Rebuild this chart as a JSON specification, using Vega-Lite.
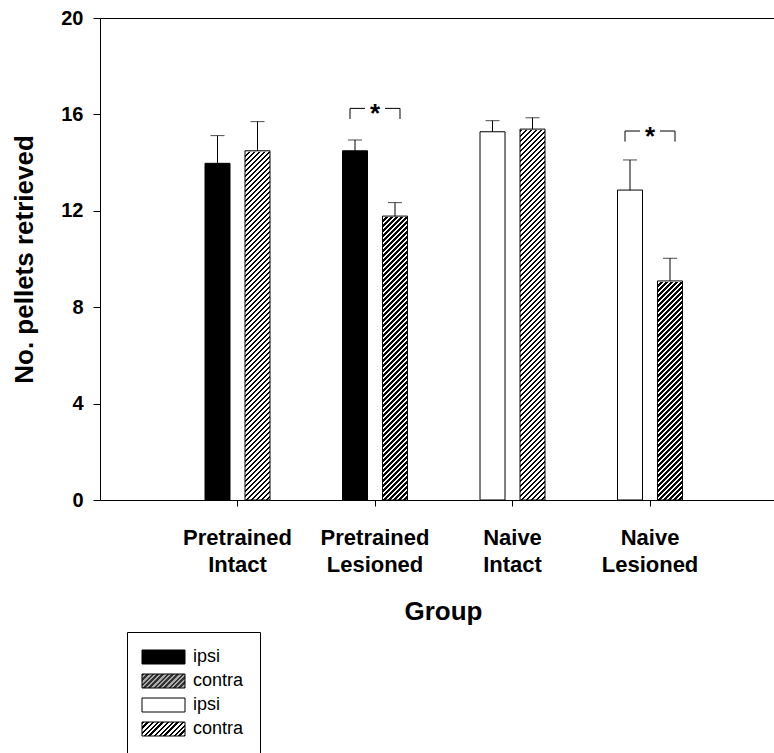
{
"$schema":"https://vega.github.io/schema/vega-lite/v6.json",
"autosize":{"type":"none"},
"padding":{"left":100,"top":18,"right":0,"bottom":253},
"width":674,"height":482,
"config":{"view":{"stroke":null},"axis":{"labelFont":"Liberation Sans","titleFont":"Liberation Sans","labelColor":"#000","titleColor":"#000","domainColor":"#000","tickColor":"#000","grid":false},"legend":{"labelFont":"Liberation Sans"},"text":{"font":"Liberation Sans"}},
"datasets":{
"bars":[
{"group":"Pretrained Intact","side":"ipsi","series":"P-ipsi","mean":13.97,"hi":15.12},
{"group":"Pretrained Intact","side":"contra","series":"P-contra","mean":14.49,"hi":15.7},
{"group":"Pretrained Lesioned","side":"ipsi","series":"P-ipsi","mean":14.49,"hi":14.94},
{"group":"Pretrained Lesioned","side":"contra","series":"P-contra","mean":11.78,"hi":12.34},
{"group":"Naive Intact","side":"ipsi","series":"N-ipsi","mean":15.28,"hi":15.74},
{"group":"Naive Intact","side":"contra","series":"N-contra","mean":15.39,"hi":15.86},
{"group":"Naive Lesioned","side":"ipsi","series":"N-ipsi","mean":12.86,"hi":14.11},
{"group":"Naive Lesioned","side":"contra","series":"N-contra","mean":9.09,"hi":10.03}
],
"brackets":[
{"group":"Pretrained Lesioned","top":16.25,"bot":15.81},
{"group":"Naive Lesioned","top":15.31,"bot":14.87}
]},
"data":{"name":"bars"},
"resolve":{"axis":{"x":"independent","y":"independent"}},
"layer":[
{"transform":[{"filter":"datum.side==='contra'"}],
"mark":{"type":"bar","stroke":null,"fill":{"gradient":"linear","x1":0,"y1":0,"x2":0.070796,"y2":1.061947,"stops":[
{"offset":0,"color":"#000"},{"offset":0.00625,"color":"#000"},{"offset":0.00625,"color":"#fff"},{"offset":0.0125,"color":"#fff"},
{"offset":0.0125,"color":"#000"},{"offset":0.01875,"color":"#000"},{"offset":0.01875,"color":"#fff"},{"offset":0.025,"color":"#fff"},
{"offset":0.025,"color":"#000"},{"offset":0.03125,"color":"#000"},{"offset":0.03125,"color":"#fff"},{"offset":0.0375,"color":"#fff"},
{"offset":0.0375,"color":"#000"},{"offset":0.04375,"color":"#000"},{"offset":0.04375,"color":"#fff"},{"offset":0.05,"color":"#fff"},
{"offset":0.05,"color":"#000"},{"offset":0.05625,"color":"#000"},{"offset":0.05625,"color":"#fff"},{"offset":0.0625,"color":"#fff"},
{"offset":0.0625,"color":"#000"},{"offset":0.06875,"color":"#000"},{"offset":0.06875,"color":"#fff"},{"offset":0.075,"color":"#fff"},
{"offset":0.075,"color":"#000"},{"offset":0.08125,"color":"#000"},{"offset":0.08125,"color":"#fff"},{"offset":0.0875,"color":"#fff"},
{"offset":0.0875,"color":"#000"},{"offset":0.09375,"color":"#000"},{"offset":0.09375,"color":"#fff"},{"offset":0.1,"color":"#fff"},
{"offset":0.1,"color":"#000"},{"offset":0.10625,"color":"#000"},{"offset":0.10625,"color":"#fff"},{"offset":0.1125,"color":"#fff"},
{"offset":0.1125,"color":"#000"},{"offset":0.11875,"color":"#000"},{"offset":0.11875,"color":"#fff"},{"offset":0.125,"color":"#fff"},
{"offset":0.125,"color":"#000"},{"offset":0.13125,"color":"#000"},{"offset":0.13125,"color":"#fff"},{"offset":0.1375,"color":"#fff"},
{"offset":0.1375,"color":"#000"},{"offset":0.14375,"color":"#000"},{"offset":0.14375,"color":"#fff"},{"offset":0.15,"color":"#fff"},
{"offset":0.15,"color":"#000"},{"offset":0.15625,"color":"#000"},{"offset":0.15625,"color":"#fff"},{"offset":0.1625,"color":"#fff"},
{"offset":0.1625,"color":"#000"},{"offset":0.16875,"color":"#000"},{"offset":0.16875,"color":"#fff"},{"offset":0.175,"color":"#fff"},
{"offset":0.175,"color":"#000"},{"offset":0.18125,"color":"#000"},{"offset":0.18125,"color":"#fff"},{"offset":0.1875,"color":"#fff"},
{"offset":0.1875,"color":"#000"},{"offset":0.19375,"color":"#000"},{"offset":0.19375,"color":"#fff"},{"offset":0.2,"color":"#fff"},
{"offset":0.2,"color":"#000"},{"offset":0.20625,"color":"#000"},{"offset":0.20625,"color":"#fff"},{"offset":0.2125,"color":"#fff"},
{"offset":0.2125,"color":"#000"},{"offset":0.21875,"color":"#000"},{"offset":0.21875,"color":"#fff"},{"offset":0.225,"color":"#fff"},
{"offset":0.225,"color":"#000"},{"offset":0.23125,"color":"#000"},{"offset":0.23125,"color":"#fff"},{"offset":0.2375,"color":"#fff"},
{"offset":0.2375,"color":"#000"},{"offset":0.24375,"color":"#000"},{"offset":0.24375,"color":"#fff"},{"offset":0.25,"color":"#fff"},
{"offset":0.25,"color":"#000"},{"offset":0.25625,"color":"#000"},{"offset":0.25625,"color":"#fff"},{"offset":0.2625,"color":"#fff"},
{"offset":0.2625,"color":"#000"},{"offset":0.26875,"color":"#000"},{"offset":0.26875,"color":"#fff"},{"offset":0.275,"color":"#fff"},
{"offset":0.275,"color":"#000"},{"offset":0.28125,"color":"#000"},{"offset":0.28125,"color":"#fff"},{"offset":0.2875,"color":"#fff"},
{"offset":0.2875,"color":"#000"},{"offset":0.29375,"color":"#000"},{"offset":0.29375,"color":"#fff"},{"offset":0.3,"color":"#fff"},
{"offset":0.3,"color":"#000"},{"offset":0.30625,"color":"#000"},{"offset":0.30625,"color":"#fff"},{"offset":0.3125,"color":"#fff"},
{"offset":0.3125,"color":"#000"},{"offset":0.31875,"color":"#000"},{"offset":0.31875,"color":"#fff"},{"offset":0.325,"color":"#fff"},
{"offset":0.325,"color":"#000"},{"offset":0.33125,"color":"#000"},{"offset":0.33125,"color":"#fff"},{"offset":0.3375,"color":"#fff"},
{"offset":0.3375,"color":"#000"},{"offset":0.34375,"color":"#000"},{"offset":0.34375,"color":"#fff"},{"offset":0.35,"color":"#fff"},
{"offset":0.35,"color":"#000"},{"offset":0.35625,"color":"#000"},{"offset":0.35625,"color":"#fff"},{"offset":0.3625,"color":"#fff"},
{"offset":0.3625,"color":"#000"},{"offset":0.36875,"color":"#000"},{"offset":0.36875,"color":"#fff"},{"offset":0.375,"color":"#fff"},
{"offset":0.375,"color":"#000"},{"offset":0.38125,"color":"#000"},{"offset":0.38125,"color":"#fff"},{"offset":0.3875,"color":"#fff"},
{"offset":0.3875,"color":"#000"},{"offset":0.39375,"color":"#000"},{"offset":0.39375,"color":"#fff"},{"offset":0.4,"color":"#fff"},
{"offset":0.4,"color":"#000"},{"offset":0.40625,"color":"#000"},{"offset":0.40625,"color":"#fff"},{"offset":0.4125,"color":"#fff"},
{"offset":0.4125,"color":"#000"},{"offset":0.41875,"color":"#000"},{"offset":0.41875,"color":"#fff"},{"offset":0.425,"color":"#fff"},
{"offset":0.425,"color":"#000"},{"offset":0.43125,"color":"#000"},{"offset":0.43125,"color":"#fff"},{"offset":0.4375,"color":"#fff"},
{"offset":0.4375,"color":"#000"},{"offset":0.44375,"color":"#000"},{"offset":0.44375,"color":"#fff"},{"offset":0.45,"color":"#fff"},
{"offset":0.45,"color":"#000"},{"offset":0.45625,"color":"#000"},{"offset":0.45625,"color":"#fff"},{"offset":0.4625,"color":"#fff"},
{"offset":0.4625,"color":"#000"},{"offset":0.46875,"color":"#000"},{"offset":0.46875,"color":"#fff"},{"offset":0.475,"color":"#fff"},
{"offset":0.475,"color":"#000"},{"offset":0.48125,"color":"#000"},{"offset":0.48125,"color":"#fff"},{"offset":0.4875,"color":"#fff"},
{"offset":0.4875,"color":"#000"},{"offset":0.49375,"color":"#000"},{"offset":0.49375,"color":"#fff"},{"offset":0.5,"color":"#fff"},
{"offset":0.5,"color":"#000"},{"offset":0.50625,"color":"#000"},{"offset":0.50625,"color":"#fff"},{"offset":0.5125,"color":"#fff"},
{"offset":0.5125,"color":"#000"},{"offset":0.51875,"color":"#000"},{"offset":0.51875,"color":"#fff"},{"offset":0.525,"color":"#fff"},
{"offset":0.525,"color":"#000"},{"offset":0.53125,"color":"#000"},{"offset":0.53125,"color":"#fff"},{"offset":0.5375,"color":"#fff"},
{"offset":0.5375,"color":"#000"},{"offset":0.54375,"color":"#000"},{"offset":0.54375,"color":"#fff"},{"offset":0.55,"color":"#fff"},
{"offset":0.55,"color":"#000"},{"offset":0.55625,"color":"#000"},{"offset":0.55625,"color":"#fff"},{"offset":0.5625,"color":"#fff"},
{"offset":0.5625,"color":"#000"},{"offset":0.56875,"color":"#000"},{"offset":0.56875,"color":"#fff"},{"offset":0.575,"color":"#fff"},
{"offset":0.575,"color":"#000"},{"offset":0.58125,"color":"#000"},{"offset":0.58125,"color":"#fff"},{"offset":0.5875,"color":"#fff"},
{"offset":0.5875,"color":"#000"},{"offset":0.59375,"color":"#000"},{"offset":0.59375,"color":"#fff"},{"offset":0.6,"color":"#fff"},
{"offset":0.6,"color":"#000"},{"offset":0.60625,"color":"#000"},{"offset":0.60625,"color":"#fff"},{"offset":0.6125,"color":"#fff"},
{"offset":0.6125,"color":"#000"},{"offset":0.61875,"color":"#000"},{"offset":0.61875,"color":"#fff"},{"offset":0.625,"color":"#fff"},
{"offset":0.625,"color":"#000"},{"offset":0.63125,"color":"#000"},{"offset":0.63125,"color":"#fff"},{"offset":0.6375,"color":"#fff"},
{"offset":0.6375,"color":"#000"},{"offset":0.64375,"color":"#000"},{"offset":0.64375,"color":"#fff"},{"offset":0.65,"color":"#fff"},
{"offset":0.65,"color":"#000"},{"offset":0.65625,"color":"#000"},{"offset":0.65625,"color":"#fff"},{"offset":0.6625,"color":"#fff"},
{"offset":0.6625,"color":"#000"},{"offset":0.66875,"color":"#000"},{"offset":0.66875,"color":"#fff"},{"offset":0.675,"color":"#fff"},
{"offset":0.675,"color":"#000"},{"offset":0.68125,"color":"#000"},{"offset":0.68125,"color":"#fff"},{"offset":0.6875,"color":"#fff"},
{"offset":0.6875,"color":"#000"},{"offset":0.69375,"color":"#000"},{"offset":0.69375,"color":"#fff"},{"offset":0.7,"color":"#fff"},
{"offset":0.7,"color":"#000"},{"offset":0.70625,"color":"#000"},{"offset":0.70625,"color":"#fff"},{"offset":0.7125,"color":"#fff"},
{"offset":0.7125,"color":"#000"},{"offset":0.71875,"color":"#000"},{"offset":0.71875,"color":"#fff"},{"offset":0.725,"color":"#fff"},
{"offset":0.725,"color":"#000"},{"offset":0.73125,"color":"#000"},{"offset":0.73125,"color":"#fff"},{"offset":0.7375,"color":"#fff"},
{"offset":0.7375,"color":"#000"},{"offset":0.74375,"color":"#000"},{"offset":0.74375,"color":"#fff"},{"offset":0.75,"color":"#fff"},
{"offset":0.75,"color":"#000"},{"offset":0.75625,"color":"#000"},{"offset":0.75625,"color":"#fff"},{"offset":0.7625,"color":"#fff"},
{"offset":0.7625,"color":"#000"},{"offset":0.76875,"color":"#000"},{"offset":0.76875,"color":"#fff"},{"offset":0.775,"color":"#fff"},
{"offset":0.775,"color":"#000"},{"offset":0.78125,"color":"#000"},{"offset":0.78125,"color":"#fff"},{"offset":0.7875,"color":"#fff"},
{"offset":0.7875,"color":"#000"},{"offset":0.79375,"color":"#000"},{"offset":0.79375,"color":"#fff"},{"offset":0.8,"color":"#fff"},
{"offset":0.8,"color":"#000"},{"offset":0.80625,"color":"#000"},{"offset":0.80625,"color":"#fff"},{"offset":0.8125,"color":"#fff"},
{"offset":0.8125,"color":"#000"},{"offset":0.81875,"color":"#000"},{"offset":0.81875,"color":"#fff"},{"offset":0.825,"color":"#fff"},
{"offset":0.825,"color":"#000"},{"offset":0.83125,"color":"#000"},{"offset":0.83125,"color":"#fff"},{"offset":0.8375,"color":"#fff"},
{"offset":0.8375,"color":"#000"},{"offset":0.84375,"color":"#000"},{"offset":0.84375,"color":"#fff"},{"offset":0.85,"color":"#fff"},
{"offset":0.85,"color":"#000"},{"offset":0.85625,"color":"#000"},{"offset":0.85625,"color":"#fff"},{"offset":0.8625,"color":"#fff"},
{"offset":0.8625,"color":"#000"},{"offset":0.86875,"color":"#000"},{"offset":0.86875,"color":"#fff"},{"offset":0.875,"color":"#fff"},
{"offset":0.875,"color":"#000"},{"offset":0.88125,"color":"#000"},{"offset":0.88125,"color":"#fff"},{"offset":0.8875,"color":"#fff"},
{"offset":0.8875,"color":"#000"},{"offset":0.89375,"color":"#000"},{"offset":0.89375,"color":"#fff"},{"offset":0.9,"color":"#fff"},
{"offset":0.9,"color":"#000"},{"offset":0.90625,"color":"#000"},{"offset":0.90625,"color":"#fff"},{"offset":0.9125,"color":"#fff"},
{"offset":0.9125,"color":"#000"},{"offset":0.91875,"color":"#000"},{"offset":0.91875,"color":"#fff"},{"offset":0.925,"color":"#fff"},
{"offset":0.925,"color":"#000"},{"offset":0.93125,"color":"#000"},{"offset":0.93125,"color":"#fff"},{"offset":0.9375,"color":"#fff"},
{"offset":0.9375,"color":"#000"},{"offset":0.94375,"color":"#000"},{"offset":0.94375,"color":"#fff"},{"offset":0.95,"color":"#fff"},
{"offset":0.95,"color":"#000"},{"offset":0.95625,"color":"#000"},{"offset":0.95625,"color":"#fff"},{"offset":0.9625,"color":"#fff"},
{"offset":0.9625,"color":"#000"},{"offset":0.96875,"color":"#000"},{"offset":0.96875,"color":"#fff"},{"offset":0.975,"color":"#fff"},
{"offset":0.975,"color":"#000"},{"offset":0.98125,"color":"#000"},{"offset":0.98125,"color":"#fff"},{"offset":0.9875,"color":"#fff"},
{"offset":0.9875,"color":"#000"},{"offset":0.99375,"color":"#000"},{"offset":0.99375,"color":"#fff"},{"offset":1,"color":"#fff"}
]}},
"encoding":{
"x":{"field":"group","type":"nominal","axis":{"orient":"top","labels":false,"ticks":false,"title":null,"domain":true}},
"xOffset":{"field":"side","type":"nominal"},
"y":{"datum":15.56,"type":"quantitative","axis":null},
"y2":{"datum":0}}},
{"transform":[{"filter":"datum.side==='contra'"}],
"mark":{"type":"bar","fill":"#fff","stroke":"#fff","strokeWidth":2},
"encoding":{
"x":{"field":"group","type":"nominal","axis":null},
"xOffset":{"field":"side","type":"nominal"},
"y":{"field":"mean","type":"quantitative","axis":null},
"y2":{"datum":15.56}}},
{"mark":{"type":"bar","stroke":"#000","strokeWidth":1},
"encoding":{
"x":{"field":"group","type":"nominal",
 "scale":{"domain":["Pretrained Intact","Pretrained Lesioned","Naive Intact","Naive Lesioned"],"paddingInner":0.5273,"paddingOuter":0.7145,"align":0.5344},
 "axis":{"orient":"bottom","title":"Group","labelExpr":"split(datum.label,' ')","labelFontSize":22,"labelFontWeight":"bold","labelLineHeight":27,"labelBaseline":"alphabetic","labelPadding":38,"tickSize":6,"labelAngle":0,"labelOverlap":false,"titleFontSize":26,"titleFontWeight":"bold","titleBaseline":"alphabetic","titleX":343,"titleY":119}},
"xOffset":{"field":"side","type":"nominal","scale":{"domain":["ipsi","contra"],"paddingInner":0.375,"paddingOuter":0}},
"y":{"field":"mean","type":"quantitative","scale":{"domain":[0,20],"nice":false},
 "axis":{"orient":"left","title":"No. pellets retrieved","values":[0,4,8,12,16,20],"tickSize":7,"labelPadding":10,"labelFontSize":20,"labelFontWeight":"bold","titleFontSize":26,"titleFontWeight":"bold","titleBaseline":"alphabetic","titleX":-68,"titleY":241}},
"fill":{"condition":[{"test":"datum.series==='P-ipsi'","value":"#000"},{"test":"datum.side==='contra'","value":"transparent"}],"value":"#fff"}}},
{"mark":{"type":"point","size":0,"opacity":1,"filled":true,"strokeWidth":0},
"encoding":{
"x":{"field":"group","type":"nominal","axis":null},
"xOffset":{"field":"side","type":"nominal"},
"y":{"field":"mean","type":"quantitative","axis":null},
"fill":{"field":"series","type":"nominal",
 "scale":{"domain":["P-ipsi","P-contra","N-ipsi","N-contra"],"range":["#000",
 {"expr":"{gradient:'linear',x1:0,y1:0,x2:1.261614,y2:0.410758,stops:[{offset:0,color:'#333'},{offset:0.041667,color:'#333'},{offset:0.041667,color:'#aaa'},{offset:0.083333,color:'#aaa'},{offset:0.083333,color:'#333'},{offset:0.125,color:'#333'},{offset:0.125,color:'#aaa'},{offset:0.166667,color:'#aaa'},{offset:0.166667,color:'#333'},{offset:0.208333,color:'#333'},{offset:0.208333,color:'#aaa'},{offset:0.25,color:'#aaa'},{offset:0.25,color:'#333'},{offset:0.291667,color:'#333'},{offset:0.291667,color:'#aaa'},{offset:0.333333,color:'#aaa'},{offset:0.333333,color:'#333'},{offset:0.375,color:'#333'},{offset:0.375,color:'#aaa'},{offset:0.416667,color:'#aaa'},{offset:0.416667,color:'#333'},{offset:0.458333,color:'#333'},{offset:0.458333,color:'#aaa'},{offset:0.5,color:'#aaa'},{offset:0.5,color:'#333'},{offset:0.541667,color:'#333'},{offset:0.541667,color:'#aaa'},{offset:0.583333,color:'#aaa'},{offset:0.583333,color:'#333'},{offset:0.625,color:'#333'},{offset:0.625,color:'#aaa'},{offset:0.666667,color:'#aaa'},{offset:0.666667,color:'#333'},{offset:0.708333,color:'#333'},{offset:0.708333,color:'#aaa'},{offset:0.75,color:'#aaa'},{offset:0.75,color:'#333'},{offset:0.791667,color:'#333'},{offset:0.791667,color:'#aaa'},{offset:0.833333,color:'#aaa'},{offset:0.833333,color:'#333'},{offset:0.875,color:'#333'},{offset:0.875,color:'#aaa'},{offset:0.916667,color:'#aaa'},{offset:0.916667,color:'#333'},{offset:0.958333,color:'#333'},{offset:0.958333,color:'#aaa'},{offset:1,color:'#aaa'}]}"},
 "#fff",
 {"expr":"{gradient:'linear',x1:0,y1:0,x2:1.261614,y2:0.410758,stops:[{offset:0,color:'#000'},{offset:0.041667,color:'#000'},{offset:0.041667,color:'#fff'},{offset:0.083333,color:'#fff'},{offset:0.083333,color:'#000'},{offset:0.125,color:'#000'},{offset:0.125,color:'#fff'},{offset:0.166667,color:'#fff'},{offset:0.166667,color:'#000'},{offset:0.208333,color:'#000'},{offset:0.208333,color:'#fff'},{offset:0.25,color:'#fff'},{offset:0.25,color:'#000'},{offset:0.291667,color:'#000'},{offset:0.291667,color:'#fff'},{offset:0.333333,color:'#fff'},{offset:0.333333,color:'#000'},{offset:0.375,color:'#000'},{offset:0.375,color:'#fff'},{offset:0.416667,color:'#fff'},{offset:0.416667,color:'#000'},{offset:0.458333,color:'#000'},{offset:0.458333,color:'#fff'},{offset:0.5,color:'#fff'},{offset:0.5,color:'#000'},{offset:0.541667,color:'#000'},{offset:0.541667,color:'#fff'},{offset:0.583333,color:'#fff'},{offset:0.583333,color:'#000'},{offset:0.625,color:'#000'},{offset:0.625,color:'#fff'},{offset:0.666667,color:'#fff'},{offset:0.666667,color:'#000'},{offset:0.708333,color:'#000'},{offset:0.708333,color:'#fff'},{offset:0.75,color:'#fff'},{offset:0.75,color:'#000'},{offset:0.791667,color:'#000'},{offset:0.791667,color:'#fff'},{offset:0.833333,color:'#fff'},{offset:0.833333,color:'#000'},{offset:0.875,color:'#000'},{offset:0.875,color:'#fff'},{offset:0.916667,color:'#fff'},{offset:0.916667,color:'#000'},{offset:0.958333,color:'#000'},{offset:0.958333,color:'#fff'},{offset:1,color:'#fff'}]}"}
 ]},
 "legend":{"orient":"none","legendX":27,"legendY":614,"title":null,"symbolType":"M-1,-1H5.142857V1H-1Z","symbolSize":196,"symbolStrokeColor":"#000","symbolStrokeWidth":1,"symbolOpacity":1,"symbolOffset":-3,"labelFontSize":18,"labelColor":"#000","labelOffset":35,"rowPadding":6,"padding":16,"strokeColor":"#000","labelExpr":"split(datum.label,'-')[1]"}}}},
{"mark":{"type":"rule","color":"#000","strokeWidth":1},
"encoding":{
"x":{"field":"group","type":"nominal","axis":null},
"xOffset":{"field":"side","type":"nominal"},
"y":{"field":"mean","type":"quantitative","axis":null},
"y2":{"field":"hi"}}},
{"mark":{"type":"tick","color":"#000","size":14,"thickness":1},
"encoding":{
"x":{"field":"group","type":"nominal","axis":null},
"xOffset":{"field":"side","type":"nominal"},
"y":{"field":"hi","type":"quantitative","axis":null}}},
{"data":{"name":"brackets"},"mark":{"type":"rule","color":"#000","strokeWidth":1,"xOffset":-25},
"encoding":{
"x":{"field":"group","type":"nominal","bandPosition":0.5,"axis":null},
"y":{"field":"top","type":"quantitative","axis":null},
"y2":{"field":"bot"}}},
{"data":{"name":"brackets"},"mark":{"type":"rule","color":"#000","strokeWidth":1,"xOffset":25},
"encoding":{
"x":{"field":"group","type":"nominal","bandPosition":0.5,"axis":null},
"y":{"field":"top","type":"quantitative","axis":null},
"y2":{"field":"bot"}}},
{"data":{"name":"brackets"},"mark":{"type":"rule","color":"#000","strokeWidth":1,"xOffset":-25,"x2Offset":-10},
"encoding":{
"x":{"field":"group","type":"nominal","bandPosition":0.5,"axis":null},
"x2":{"field":"group","bandPosition":0.5},
"y":{"field":"top","type":"quantitative","axis":null}}},
{"data":{"name":"brackets"},"mark":{"type":"rule","color":"#000","strokeWidth":1,"xOffset":10,"x2Offset":25},
"encoding":{
"x":{"field":"group","type":"nominal","bandPosition":0.5,"axis":null},
"x2":{"field":"group","bandPosition":0.5},
"y":{"field":"top","type":"quantitative","axis":null}}},
{"data":{"name":"brackets"},"mark":{"type":"text","text":"*","fontSize":26,"fontWeight":"bold","color":"#000","baseline":"alphabetic","dy":14},
"encoding":{
"x":{"field":"group","type":"nominal","bandPosition":0.5,"axis":null},
"y":{"field":"top","type":"quantitative","axis":null}}}
]
}
